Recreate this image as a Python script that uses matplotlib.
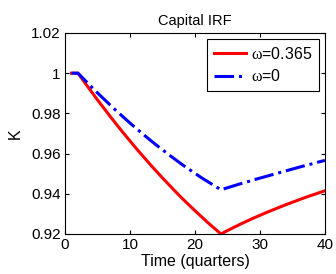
import matplotlib
matplotlib.use("Agg")
import matplotlib.pyplot as plt
from matplotlib.ticker import FuncFormatter

plt.rcParams['font.family'] = ['Liberation Sans', 'DejaVu Sans']
plt.rcParams['mathtext.fontset'] = 'custom'
plt.rcParams['mathtext.rm'] = 'Liberation Serif'
plt.rcParams['mathtext.it'] = 'Liberation Serif'

quarters = list(range(1, 41))
k_omega_0365 = [1.0, 1.0, 0.9955, 0.9911, 0.9867, 0.9825, 0.9783, 0.9742, 0.9702, 0.9663,
                0.9624, 0.9587, 0.9550, 0.9514, 0.9479, 0.9445, 0.9411, 0.9378, 0.9347, 0.9316,
                0.9286, 0.9256, 0.9228, 0.9200, 0.9217, 0.9233, 0.9249, 0.9264, 0.9279, 0.9293,
                0.9307, 0.9320, 0.9333, 0.9346, 0.9358, 0.9370, 0.9382, 0.9393, 0.9404, 0.9415]
k_omega_0 = [1.0, 1.0, 0.9967, 0.9934, 0.9902, 0.9871, 0.9840, 0.9810, 0.9781, 0.9752,
             0.9724, 0.9697, 0.9670, 0.9644, 0.9619, 0.9594, 0.9570, 0.9546, 0.9524, 0.9502,
             0.9480, 0.9460, 0.9440, 0.9420, 0.9430, 0.9440, 0.9450, 0.9459, 0.9469, 0.9478,
             0.9487, 0.9496, 0.9505, 0.9514, 0.9523, 0.9532, 0.9541, 0.9549, 0.9558, 0.9566]
x_ticks = [0, 10, 20, 30, 40]
y_ticks = [0.92, 0.94, 0.96, 0.98, 1.0, 1.02]

fig = plt.figure(figsize=(3.36, 2.74), dpi=100)
ax = fig.add_axes([0.1935, 0.146, 0.7735, 0.7336])

ax.plot(quarters, k_omega_0365, color='red', lw=2.2, label=r'$\mathrm{\omega}$=0.365')
ax.plot(quarters, k_omega_0, color='blue', lw=2.2, linestyle='-.', label=r'$\mathrm{\omega}$=0')

ax.set_xlim(0, 40)
ax.set_ylim(0.92, 1.02)
ax.set_xticks(x_ticks)
ax.set_yticks(y_ticks)
ax.yaxis.set_major_formatter(FuncFormatter(lambda v, p: '%g' % round(v, 2)))
ax.tick_params(direction='in', top=True, right=True, labelsize=11, length=3, pad=3)
for s in ax.spines.values():
    s.set_linewidth(0.8)

ax.set_title('Capital IRF', fontsize=10.5, pad=6)
ax.set_xlabel('Time (quarters)', fontsize=11.5, labelpad=1)
ax.set_ylabel('K', fontsize=11.5, labelpad=6)

leg = ax.legend(loc='upper right', fontsize=11.5, fancybox=False, framealpha=1,
                edgecolor='black', handlelength=2.0, borderaxespad=0.35,
                labelspacing=0.4, handletextpad=0.3, borderpad=0.45)
leg.get_frame().set_linewidth(0.8)

fig.savefig('out.png', dpi=100)
